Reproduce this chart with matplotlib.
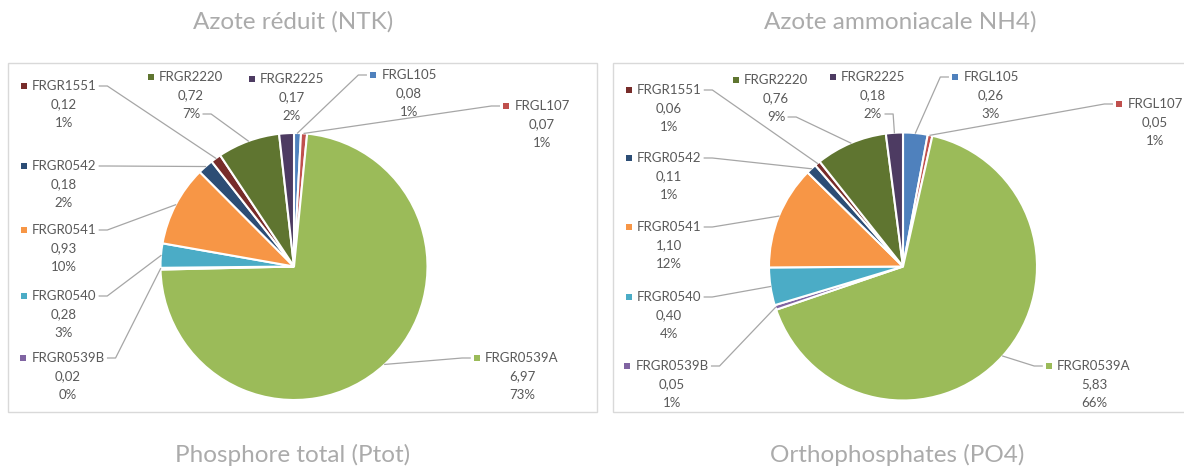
import numpy as np
import matplotlib.pyplot as plt
from matplotlib.patches import Rectangle

W, H = 1184, 468

stations = ['FRGL105', 'FRGL107', 'FRGR0539A', 'FRGR0539B', 'FRGR0540',
            'FRGR0541', 'FRGR0542', 'FRGR1551', 'FRGR2220', 'FRGR2225']
colors = ['#4F81BD', '#C0504D', '#9BBB59', '#8064A2', '#4BACC6',
          '#F79646', '#2C4D75', '#772C2A', '#5F7530', '#4D3B62']

# flux par masse d'eau
ntk = [0.08, 0.07, 6.97, 0.02, 0.28, 0.93, 0.18, 0.12, 0.72, 0.17]
ntk_pct = [1, 1, 73, 0, 3, 10, 2, 1, 7, 2]
nh4 = [0.26, 0.05, 5.83, 0.05, 0.40, 1.10, 0.11, 0.06, 0.76, 0.18]
nh4_pct = [3, 1, 66, 1, 4, 12, 1, 1, 9, 2]

titles_top = ['Azote réduit (NTK)', 'Azote ammoniacale NH4)']
titles_bottom = ['Phosphore total (Ptot)', 'Orthophosphates (PO4)']

# position des étiquettes: centre x, y de la 1re ligne, point d'accroche du trait
lab_left = {
    'FRGR1551': (64, 86, 'nr'), 'FRGR2220': (191, 77, 'pr'),
    'FRGR2225': (292, 79, None), 'FRGL105': (409, 75, 'nl'),
    'FRGL107': (542, 106, 'nl'), 'FRGR0542': (64, 166, 'nr'),
    'FRGR0541': (64, 230, 'nr'), 'FRGR0540': (64, 296, 'nr'),
    'FRGR0539B': (68, 358, 'nr'), 'FRGR0539A': (522, 358, 'nl'),
}
lab_right = {
    'FRGR1551': (669, 90, 'nr'), 'FRGR2220': (776, 80, 'pr'),
    'FRGR2225': (873, 77, 'pr'), 'FRGL105': (991, 77, 'nl'),
    'FRGL107': (1155, 104, 'nl'), 'FRGR0542': (669, 158, 'nr'),
    'FRGR0541': (669, 227, 'nr'), 'FRGR0540': (669, 297, 'nr'),
    'FRGR0539B': (672, 366, 'nr'), 'FRGR0539A': (1094, 366, 'nl'),
}

charts = [
    dict(vals=ntk, pct=ntk_pct, c=(294, 266.5), r=133.5, box=(8, 63, 597, 412), labs=lab_left),
    dict(vals=nh4, pct=nh4_pct, c=(903, 266.5), r=134, box=(613, 63, 1200, 412), labs=lab_right),
]

FONT = 'Lato'
TXT = '#595959'
LINE = '#A6A6A6'
LSP = 18.5

fig = plt.figure(figsize=(W / 100, H / 100), dpi=100)
ax = fig.add_axes([0, 0, 1, 1])


def Y(y):
    return H - y


for ch in charts:
    x0, y0, x1, y1 = ch['box']
    ax.add_patch(Rectangle((x0, Y(y1)), x1 - x0, y1 - y0, facecolor='white',
                           edgecolor='#D9D9D9', lw=1, zorder=0))
    cx, cy = ch['c']
    ax.pie(ch['vals'], colors=colors, startangle=90, counterclock=False,
           center=(cx, Y(cy)), radius=ch['r'], frame=True,
           wedgeprops=dict(edgecolor='white', linewidth=1.5))

ax.set_xlim(0, W)
ax.set_ylim(0, H)
ax.set_aspect('equal')
ax.axis('off')

for t, x in zip(titles_top, [293, 900]):
    ax.text(x, Y(22), t, ha='center', va='center', fontsize=17.5, color='#ABABAB',
            family=FONT)
for t, x in zip(titles_bottom, [293, 897]):
    ax.text(x, Y(455), t, ha='center', va='center', fontsize=17.5, color='#ABABAB',
            family=FONT)

renderer = fig.canvas.get_renderer()
inv = ax.transData.inverted()

for ch in charts:
    vals = np.array(ch['vals'])
    tot = vals.sum()
    cum = np.cumsum(vals) - vals / 2
    cx, cy = ch['c']
    for i, st in enumerate(stations):
        lx, ly, att = ch['labs'][st]
        name = ax.text(lx, Y(ly), st, ha='center', va='center', fontsize=9.5,
                       color=TXT, family=FONT)
        ax.text(lx, Y(ly + LSP), f'{vals[i]:.2f}'.replace('.', ','), ha='center',
                va='center', fontsize=9.5, color=TXT, family=FONT)
        pct = ax.text(lx, Y(ly + 2 * LSP), f'{ch["pct"][i]}%', ha='center',
                      va='center', fontsize=9.5, color=TXT, family=FONT)
        bb = name.get_window_extent(renderer).transformed(inv)
        ax.add_patch(Rectangle((bb.x0 - 11, Y(ly) - 3), 6, 6, color=colors[i], lw=0))
        if att is None:
            continue
        ang = np.radians(90 - 360 * cum[i] / tot)
        wx = cx + ch['r'] * np.cos(ang)
        wy = Y(cy) + ch['r'] * np.sin(ang)
        if att == 'nl':
            px, py, dx = bb.x0 - 15, Y(ly), -8
        elif att == 'nr':
            px, py, dx = bb.x1 + 3, Y(ly), 8
        else:
            pb = pct.get_window_extent(renderer).transformed(inv)
            px, py, dx = pb.x1 + 3, Y(ly + 2 * LSP), 8
        ax.plot([px, px + dx, wx], [py, py, wy], color=LINE, lw=0.9, zorder=1)

fig.savefig('out.png', dpi=100)
